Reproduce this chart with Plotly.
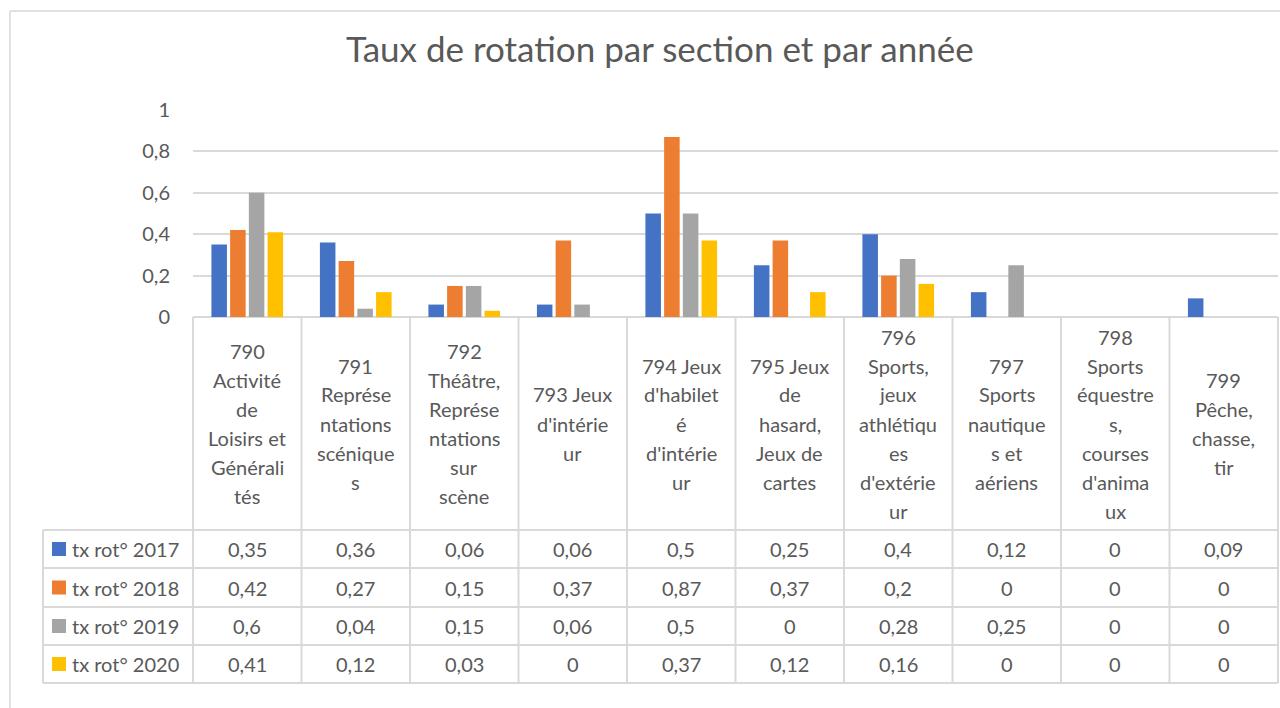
import plotly.graph_objects as go

# ---------------- data ----------------
categories = [
    "790<br>Activité<br>de<br>Loisirs et<br>Générali<br>tés",
    "791<br>Représe<br>ntations<br>scénique<br>s",
    "792<br>Théâtre,<br>Représe<br>ntations<br>sur<br>scène",
    "793 Jeux<br>d'intérie<br>ur",
    "794 Jeux<br>d'habilet<br>é<br>d'intérie<br>ur",
    "795 Jeux<br>de<br>hasard,<br>Jeux de<br>cartes",
    "796<br>Sports,<br>jeux<br>athlétiqu<br>es<br>d'extérie<br>ur",
    "797<br>Sports<br>nautique<br>s et<br>aériens",
    "798<br>Sports<br>équestre<br>s,<br>courses<br>d'anima<br>ux",
    "799<br>Pêche,<br>chasse,<br>tir",
]
series_names = ["tx rot° 2017", "tx rot° 2018", "tx rot° 2019", "tx rot° 2020"]
tx_2017 = [0.35, 0.36, 0.06, 0.06, 0.5, 0.25, 0.4, 0.12, 0, 0.09]
tx_2018 = [0.42, 0.27, 0.15, 0.37, 0.87, 0.37, 0.2, 0, 0, 0]
tx_2019 = [0.6, 0.04, 0.15, 0.06, 0.5, 0, 0.28, 0.25, 0, 0]
tx_2020 = [0.41, 0.12, 0.03, 0, 0.37, 0.12, 0.16, 0, 0, 0]
series_values = [tx_2017, tx_2018, tx_2019, tx_2020]
y_tick_vals = [0, 0.2, 0.4, 0.6, 0.8, 1]
y_tick_text = ["0", "0,2", "0,4", "0,6", "0,8", "1"]
title_text = "Taux de rotation par section et par année"

# ---------------- styles ----------------
colors = ["#4472C4", "#ED7D31", "#A5A5A5", "#FFC000"]
W, H = 1280, 708
FONT = "Lato"
TXT = "#595959"
GRID = "#D9D9D9"

def px(x):
    return x / W

def py(y):
    return 1 - y / H

plot_left, plot_right = 193, 1278
plot_top, plot_bottom = 110, 317
header_bottom = 530
row_bottoms = [568, 607, 645, 683]
legend_left = 43

fig = go.Figure()
for name, vals, col in zip(series_names, series_values, colors):
    fig.add_trace(go.Bar(x=categories, y=vals, name=name, marker=dict(color=col, line=dict(width=0))))

shapes = []
annotations = []

# outer chart border
shapes.append(dict(type="line", xref="paper", yref="paper", x0=px(10), x1=px(W + 5), y0=py(11), y1=py(11),
                   line=dict(color=GRID, width=1.5)))
shapes.append(dict(type="line", xref="paper", yref="paper", x0=px(10), x1=px(10), y0=py(11), y1=py(H + 5),
                   line=dict(color=GRID, width=1.5)))

ncat = len(categories)
colw = (plot_right - plot_left) / ncat
col_edges = [plot_left + i * colw for i in range(ncat + 1)]

# table vertical lines
for i, xe in enumerate(col_edges):
    shapes.append(dict(type="line", xref="paper", yref="paper", x0=px(xe), x1=px(xe),
                       y0=py(plot_bottom), y1=py(row_bottoms[-1]), line=dict(color=GRID, width=2)))
shapes.append(dict(type="line", xref="paper", yref="paper", x0=px(legend_left), x1=px(legend_left),
                   y0=py(header_bottom), y1=py(row_bottoms[-1]), line=dict(color=GRID, width=2)))
# table horizontal lines
for ye in [header_bottom] + row_bottoms:
    shapes.append(dict(type="line", xref="paper", yref="paper", x0=px(legend_left), x1=px(plot_right),
                       y0=py(ye), y1=py(ye), line=dict(color=GRID, width=2)))

# header category labels (one annotation per line, 29px line height)
line_h = 29
hdr_center = (plot_bottom + header_bottom) / 2
for i, cat in enumerate(categories):
    lines = cat.split("<br>")
    n = len(lines)
    cx = (col_edges[i] + col_edges[i + 1]) / 2
    for j, ln in enumerate(lines):
        yy = hdr_center + (j - (n - 1) / 2) * line_h
        annotations.append(dict(text=ln, x=px(cx), y=py(yy), xref="paper", yref="paper",
                                showarrow=False, xanchor="center", yanchor="middle",
                                font=dict(family=FONT, size=20, color=TXT)))

# data rows
row_tops = [header_bottom] + row_bottoms[:-1]
for r, (name, vals, col) in enumerate(zip(series_names, series_values, colors)):
    yc = (row_tops[r] + row_bottoms[r]) / 2
    shapes.append(dict(type="rect", xref="paper", yref="paper", x0=px(52), x1=px(66),
                       y0=py(yc - 7), y1=py(yc + 7), fillcolor=col, line=dict(width=0)))
    annotations.append(dict(text=name, x=px(70), y=py(yc), xref="paper", yref="paper",
                            showarrow=False, xanchor="left", yanchor="middle",
                            font=dict(family=FONT, size=20, color=TXT)))
    for i, v in enumerate(vals):
        cx = (col_edges[i] + col_edges[i + 1]) / 2
        annotations.append(dict(text=f"{v:g}".replace(".", ","), x=px(cx), y=py(yc),
                                xref="paper", yref="paper", showarrow=False,
                                xanchor="center", yanchor="middle",
                                font=dict(family=FONT, size=20, color=TXT)))

# title
annotations.append(dict(text=title_text, x=px(660), y=py(48), xref="paper", yref="paper",
                        showarrow=False, xanchor="center", yanchor="middle",
                        font=dict(family=FONT, size=35, color=TXT)))

fig.update_layout(
    width=W, height=H,
    margin=dict(l=0, r=0, t=0, b=0),
    paper_bgcolor="white", plot_bgcolor="white",
    showlegend=False,
    barmode="group", bargap=0.31, bargroupgap=0.17,
    shapes=shapes, annotations=annotations,
    xaxis=dict(domain=[px(plot_left), px(plot_right)], showticklabels=False, showgrid=False,
               showline=False, zeroline=False, ticks=""),
    yaxis=dict(domain=[py(plot_bottom), py(plot_top)], range=[0, 1], tickvals=y_tick_vals,
               ticktext=y_tick_text, showgrid=True, gridcolor=GRID, gridwidth=1.5,
               zeroline=True, zerolinecolor=GRID, zerolinewidth=2, showline=False,
               ticks="", ticklabelstandoff=22, automargin=False,
               tickfont=dict(family=FONT, size=20, color=TXT)),
)

fig.write_html("out.html", config={"displayModeBar": False},
               post_script="document.body.style.margin='0';document.body.style.overflow='hidden';")
